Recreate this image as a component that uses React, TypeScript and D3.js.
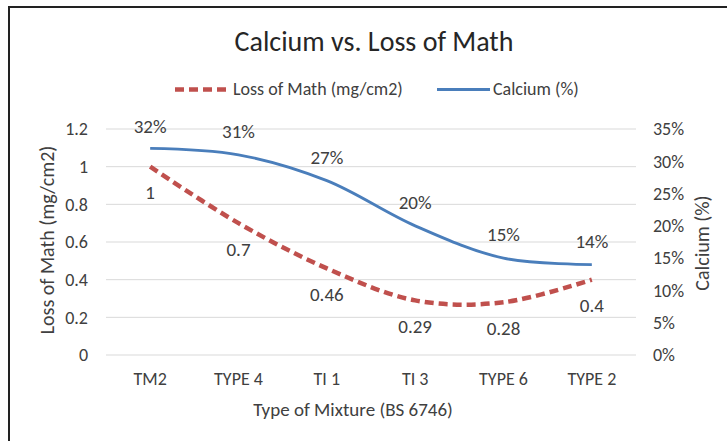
import { useEffect, useRef } from "react";
import * as d3 from "d3";

const categories = ["TM2", "TYPE 4", "TI 1", "TI 3", "TYPE 6", "TYPE 2"];
const lossValues = [1, 0.7, 0.46, 0.29, 0.28, 0.4];
const calciumValues = [0.32, 0.31, 0.27, 0.2, 0.15, 0.14];
const lossTicks = [0, 0.2, 0.4, 0.6, 0.8, 1, 1.2];
const calciumTicks = [0, 0.05, 0.1, 0.15, 0.2, 0.25, 0.3, 0.35];

const WIDTH = 727;
const HEIGHT = 441;
const FONT = "Carlito, Calibri, 'Open Sans', sans-serif";
const RED = "#C0504D";
const BLUE = "#4A7EBB";
const TEXT = "#404040";

export default function App() {
  const svgRef = useRef<SVGSVGElement | null>(null);

  useEffect(() => {
    if (!svgRef.current) return;
    const svg = d3.select(svgRef.current);
    svg.selectAll("*").remove();

    const margin = { top: 129, right: 91, bottom: 86, left: 106 };
    const innerBottom = HEIGHT - margin.bottom;
    const innerRight = WIDTH - margin.right;

    const x = d3.scaleBand<string>().domain(categories).range([margin.left, innerRight]);
    const yLeft = d3.scaleLinear().domain([0, 1.2]).range([innerBottom, margin.top]);
    const yRight = d3.scaleLinear().domain([0, 0.35]).range([innerBottom, margin.top]);
    const cx = (c: string) => (x(c) ?? 0) + x.bandwidth() / 2;

    svg.append("rect").attr("width", WIDTH).attr("height", HEIGHT).attr("fill", "#fff");
    // frame (only left and top edges fall inside the picture)
    svg
      .append("path")
      .attr("d", `M9,${HEIGHT + 5} V7 H${WIDTH + 5}`)
      .attr("fill", "none")
      .attr("stroke", "#222")
      .attr("stroke-width", 2);

    svg
      .append("text")
      .attr("x", 374)
      .attr("y", 51)
      .attr("text-anchor", "middle")
      .attr("font-family", FONT)
      .attr("font-size", 28)
      .attr("fill", "#262626")
      .text("Calcium vs. Loss of Math");

    // gridlines
    svg
      .append("g")
      .selectAll("line")
      .data(lossTicks)
      .join("line")
      .attr("x1", margin.left)
      .attr("x2", innerRight)
      .attr("y1", (d) => yLeft(d))
      .attr("y2", (d) => yLeft(d))
      .attr("stroke", "#d9d9d9")
      .attr("stroke-width", 1);

    const leftAxis = d3
      .axisLeft(yLeft)
      .tickValues(lossTicks)
      .tickSize(0)
      .tickPadding(18)
      .tickFormat((d) => String(+d));
    svg
      .append("g")
      .attr("transform", `translate(${margin.left},0)`)
      .call(leftAxis)
      .call((g) => g.select(".domain").remove())
      .call((g) => g.selectAll("text").attr("fill", TEXT).attr("font-size", 18).attr("font-family", FONT));

    const rightAxis = d3
      .axisRight(yRight)
      .tickValues(calciumTicks)
      .tickSize(0)
      .tickPadding(17)
      .tickFormat(d3.format(".0%"));
    svg
      .append("g")
      .attr("transform", `translate(${innerRight},0)`)
      .call(rightAxis)
      .call((g) => g.select(".domain").remove())
      .call((g) => g.selectAll("text").attr("fill", TEXT).attr("font-size", 18).attr("font-family", FONT));

    const bottomAxis = d3.axisBottom(x).tickSize(0).tickPadding(17);
    svg
      .append("g")
      .attr("transform", `translate(0,${innerBottom})`)
      .call(bottomAxis)
      .call((g) => g.select(".domain").remove())
      .call((g) => g.selectAll("text").attr("fill", TEXT).attr("font-size", 18).attr("font-family", FONT));

    // axis titles
    svg
      .append("text")
      .attr("transform", `translate(54,240) rotate(-90)`)
      .attr("text-anchor", "middle")
      .attr("font-family", FONT)
      .attr("font-size", 20)
      .attr("fill", TEXT)
      .text("Loss of Math (mg/cm2)");
    svg
      .append("text")
      .attr("transform", `translate(709,243) rotate(-90)`)
      .attr("text-anchor", "middle")
      .attr("font-family", FONT)
      .attr("font-size", 20)
      .attr("fill", TEXT)
      .text("Calcium (%)");
    svg
      .append("text")
      .attr("x", 353)
      .attr("y", 416)
      .attr("text-anchor", "middle")
      .attr("font-family", FONT)
      .attr("font-size", 19)
      .attr("fill", TEXT)
      .text("Type of Mixture (BS 6746)");

    const curve = d3.curveCatmullRom.alpha(0.5);
    const lossLine = d3
      .line<number>()
      .x((_, i) => cx(categories[i]))
      .y((d) => yLeft(d))
      .curve(curve);
    const calciumLine = d3
      .line<number>()
      .x((_, i) => cx(categories[i]))
      .y((d) => yRight(d))
      .curve(curve);

    svg
      .append("path")
      .attr("d", lossLine(lossValues))
      .attr("fill", "none")
      .attr("stroke", RED)
      .attr("stroke-width", 4.5)
      .attr("stroke-dasharray", "9,5");
    svg
      .append("path")
      .attr("d", calciumLine(calciumValues))
      .attr("fill", "none")
      .attr("stroke", BLUE)
      .attr("stroke-width", 2.8);

    // data labels
    svg
      .append("g")
      .selectAll("text")
      .data(calciumValues)
      .join("text")
      .attr("x", (_, i) => cx(categories[i]))
      .attr("y", (d) => Math.max(margin.top - 2, yRight(d) - 23) + 6)
      .attr("text-anchor", "middle")
      .attr("font-family", FONT)
      .attr("font-size", 19)
      .attr("fill", TEXT)
      .text((d) => d3.format(".0%")(d));
    svg
      .append("g")
      .selectAll("text")
      .data(lossValues)
      .join("text")
      .attr("x", (_, i) => cx(categories[i]))
      .attr("y", (d) => yLeft(d) + 26.5 + 6)
      .attr("text-anchor", "middle")
      .attr("font-family", FONT)
      .attr("font-size", 19)
      .attr("fill", TEXT)
      .text((d) => String(d));

    // legend
    const legend = svg.append("g").attr("font-family", FONT).attr("font-size", 18).attr("fill", TEXT);
    legend
      .append("line")
      .attr("x1", 175)
      .attr("x2", 229)
      .attr("y1", 89.5)
      .attr("y2", 89.5)
      .attr("stroke", RED)
      .attr("stroke-width", 4.5)
      .attr("stroke-dasharray", "9,5");
    legend.append("text").attr("x", 233).attr("y", 95).text("Loss of Math (mg/cm2)");
    legend
      .append("line")
      .attr("x1", 437)
      .attr("x2", 490)
      .attr("y1", 89.5)
      .attr("y2", 89.5)
      .attr("stroke", BLUE)
      .attr("stroke-width", 2.8);
    legend.append("text").attr("x", 493).attr("y", 95).text("Calcium (%)");
  }, []);

  return (
    <svg
      ref={svgRef}
      width={WIDTH}
      height={HEIGHT}
      style={{ position: "absolute", left: 0, top: 0, display: "block" }}
    />
  );
}
